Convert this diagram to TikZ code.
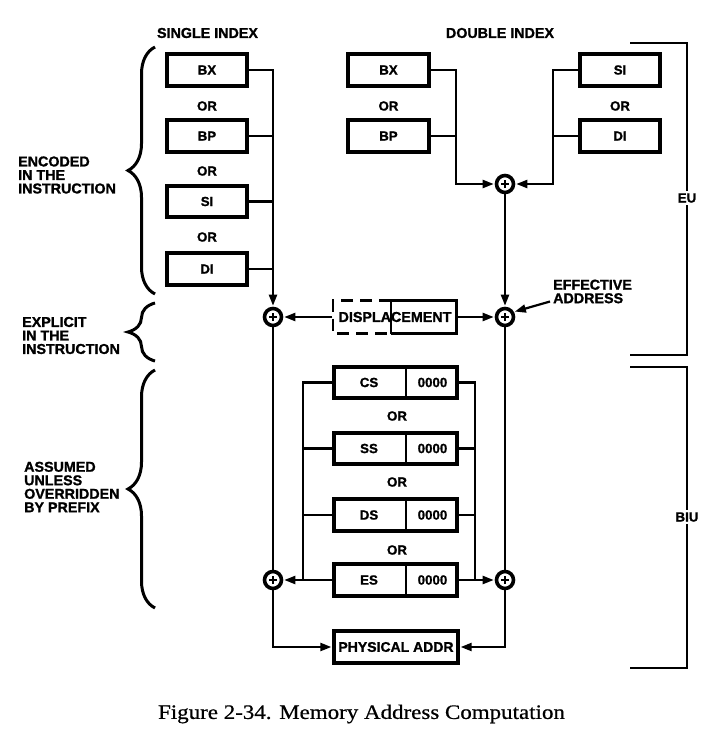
\documentclass[tikz,border=0pt]{standalone}
\usepackage{fontspec}
\setmainfont{Liberation Sans}[BoldFeatures={FakeBold=1.2}]
\newfontfamily\capfont[FakeStretch=1.12,FakeBold=0.6]{Liberation Serif}
\usetikzlibrary{arrows.meta,decorations.pathreplacing}
\begin{document}
\begin{tikzpicture}[x=1pt,y=-1pt,
  every node/.style={font=\fontsize{14.3}{13.5}\selectfont\bfseries, inner sep=0pt},
  smalltxt/.style={font=\fontsize{13.2}{13}\selectfont\bfseries},
  midtxt/.style={font=\fontsize{13.3}{13}\selectfont\bfseries},
  regbox/.style={draw, line width=3.8pt, minimum width=80.5pt, minimum height=31.5pt, smalltxt},
  segbox/.style={draw, line width=3.8pt, minimum width=123.5pt, minimum height=31.5pt},
  wire/.style={line width=2.2pt},
  arr/.style={wire, -{Triangle[length=11pt,width=8pt]}, shorten >=1pt},
  sumnode/.style={circle, draw, line width=3.6pt, minimum size=17pt,
    path picture={\draw[line width=1.4pt]
      ([xshift=-4pt]path picture bounding box.center) -- ([xshift=4pt]path picture bounding box.center)
      ([yshift=-4pt]path picture bounding box.center) -- ([yshift=4pt]path picture bounding box.center);}},
  lbl/.style={align=left, anchor=west},
  brc/.style={decorate, decoration={brace, amplitude=27pt}, line width=3pt},
  unitline/.style={line width=2.2pt},
]
\fill[white] (0,0) rectangle (718,738);
\useasboundingbox (0,0) rectangle (718,738);

% headers
\node (hsingle) at (207.5,33) {SINGLE INDEX};
\node (hdouble) at (500,33) {DOUBLE INDEX};

% single index
\node[regbox] (sbx) at (207,70) {BX};
\node[smalltxt] (sor1) at (207,106) {OR};
\node[regbox] (sbp) at (207,136) {BP};
\node[smalltxt] (sor2) at (207,171) {OR};
\node[regbox] (ssi) at (207,201.5) {SI};
\node[smalltxt] (sor3) at (207,237) {OR};
\node[regbox] (sdi) at (207,269) {DI};

% double index
\node[regbox] (dbx) at (388.5,70) {BX};
\node[smalltxt] (dor1) at (388.5,106) {OR};
\node[regbox] (dbp) at (388.5,136) {BP};
\node[regbox] (dsi) at (620,70) {SI};
\node[smalltxt] (dor2) at (620,106) {OR};
\node[regbox] (ddi) at (620,136) {DI};

% adders
\node[sumnode] (pd) at (505,184) {};
\node[sumnode] (pl1) at (273,317) {};
\node[sumnode] (pr1) at (505,317) {};
\node[sumnode] (pl2) at (273,580) {};
\node[sumnode] (pr2) at (505,580) {};

% displacement
\node[minimum width=125pt, minimum height=34pt] (disp) at (395,317) {DISPLACEMENT};
\draw[line width=3.8pt] (391,300.5) -- (456.5,300.5) -- (456.5,333.5) -- (391,333.5);
\draw[wire] (391,300.5) -- (391,333.5);
\draw[wire, dash pattern=on 12pt off 7pt] (391,300.5) -- (333,300.5) -- (333,333.5) -- (391,333.5);

% effective address
\node[lbl] (ea) at (553,291.5) {EFFECTIVE\\ADDRESS};

% segment registers
\node[segbox] (cs) at (395.5,382.5) {};
\node[midtxt] (csn) at (369,382.5) {CS};
\node[midtxt] (csz) at (432.5,382.5) {0000};
\draw[wire] (406,366.5) -- (406,398.5);
\node[midtxt] (gor1) at (397,416) {OR};
\node[segbox] (ss) at (395.5,448.5) {};
\node[midtxt] (ssn) at (369,448.5) {SS};
\node[midtxt] (ssz) at (432.5,448.5) {0000};
\draw[wire] (406,432.5) -- (406,464.5);
\node[midtxt] (gor2) at (397,482) {OR};
\node[segbox] (ds) at (395.5,515) {};
\node[midtxt] (dsn) at (369,515) {DS};
\node[midtxt] (dsz) at (432.5,515) {0000};
\draw[wire] (406,499) -- (406,531);
\node[midtxt] (gor3) at (397,550) {OR};
\node[segbox] (es) at (395.5,580) {};
\node[midtxt] (esn) at (369,580) {ES};
\node[midtxt] (esz) at (432.5,580) {0000};
\draw[wire] (406,564) -- (406,596);

% physical address
\node[segbox, font=\fontsize{14}{14}\selectfont\bfseries] (pa) at (396,647) {PHYSICAL ADDR};

% connectors: single index
\draw[arr] (sbx.east) -| (pl1.north);
\draw[wire] (sbp.east) -- (sbp.east -| pl1);
\draw[wire] (ssi.east) -- (ssi.east -| pl1);
\draw[wire] (sdi.east) -- (sdi.east -| pl1);

% connectors: double index
\draw[arr] (dbx.east) -- ++(25,0) |- (pd.west);
\draw[wire] (dbp.east) -- ++(25,0);
\draw[arr] (dsi.west) -- ++(-25,0) |- (pd.east);
\draw[wire] (ddi.west) -- ++(-25,0);
\draw[arr] (pd.south) -- (pr1.north);

% displacement arrows
\draw[arr] (disp.west) -- (pl1.east);
\draw[arr] (disp.east) -- (pr1.west);
\draw[arr] ([xshift=-3pt,yshift=2pt]ea.south west) -- (pr1.30);

% verticals
\draw[wire] (pl1.south) -- (pl2.north);
\draw[wire] (pr1.south) -- (pr2.north);

% segment buses
\draw[arr] (cs.west) -- ++(-29,0) |- (pl2.east);
\draw[wire] (ss.west) -- ++(-29,0);
\draw[wire] (ds.west) -- ++(-29,0);
\draw[wire] (es.west) -- ++(-29,0);
\draw[arr] (cs.east) -- ++(16,0) |- (pr2.west);
\draw[wire] (ss.east) -- ++(16,0);
\draw[wire] (ds.east) -- ++(16,0);
\draw[wire] (es.east) -- ++(16,0);

% to physical address
\draw[arr] (pl2.south) |- (pa.west);
\draw[arr] (pr2.south) |- (pa.east);

% left braces and labels
\draw[brc] (155,294) -- (155,47);
\draw[brc] (155,361) -- (155,303);
\draw[brc] (155,608) -- (155,370);
\node[lbl] (enc) at (18,175) {ENCODED\\IN THE\\INSTRUCTION};
\node[lbl] (exp) at (22,335.5) {EXPLICIT\\IN THE\\INSTRUCTION};
\node[lbl] (ass) at (24,487) {ASSUMED\\UNLESS\\OVERRIDDEN\\BY PREFIX};

% unit brackets
\draw[unitline] (630,43) -- (687,43) -- (687,355) -- (630,355);
\node[midtxt, fill=white, inner ysep=2pt] (eu) at (687,198) {EU};
\draw[unitline] (630,367) -- (687,367) -- (687,668) -- (630,668);
\node[midtxt, fill=white, inner ysep=2pt] (biu) at (687,517) {BIU};

% caption
\node[font=\capfont\fontsize{20.5}{22}\selectfont] (cap) at (361.5,714) {Figure 2-34. Memory Address Computation};
\end{tikzpicture}
\end{document}
